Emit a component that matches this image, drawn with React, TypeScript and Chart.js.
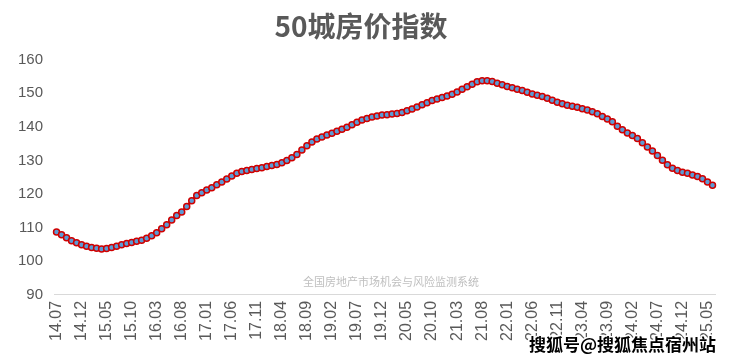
import React, { useEffect, useRef } from "react";
import { Chart, registerables } from "chart.js";

Chart.register(...registerables);

const TITLE = "50城房价指数";
const SOURCE = "全国房地产市场机会与风险监测系统";
const WATERMARK = "搜狐号@搜狐焦点宿州站";

// Months 14.07 .. 25.06
const categories: string[] = [];
for (let y = 14, m = 7; categories.length < 132; ) {
  categories.push(`${y}.${String(m).padStart(2, "0")}`);
  m++;
  if (m > 12) { m = 1; y++; }
}

const indexValues: number[] = [
  108.7, 107.9, 107.0, 106.1, 105.5, 104.9, 104.5, 104.1, 103.9, 103.7,
  103.8, 104.1, 104.5, 104.9, 105.3, 105.6, 106.0, 106.3, 106.9, 107.6,
  108.5, 109.7, 110.9, 112.3, 113.6, 114.7, 116.3, 118.0, 119.6, 120.4,
  121.2, 121.9, 122.8, 123.6, 124.5, 125.4, 126.2, 126.7, 127.0, 127.3,
  127.6, 127.8, 128.2, 128.5, 128.8, 129.3, 130.0, 130.8, 131.8, 133.1,
  134.4, 135.5, 136.4, 137.0, 137.6, 138.1, 138.7, 139.3, 139.9, 140.6,
  141.4, 142.0, 142.5, 142.9, 143.2, 143.5, 143.6, 143.8, 144.0, 144.3,
  144.8, 145.3, 145.9, 146.6, 147.2, 147.8, 148.3, 148.7, 149.2, 149.7,
  150.4, 151.2, 151.9, 152.7, 153.4, 153.7, 153.7, 153.5, 153.0, 152.5,
  152.0, 151.6, 151.2, 150.8, 150.3, 149.8, 149.4, 149.0, 148.5, 147.9,
  147.3, 146.9, 146.4, 146.1, 145.8, 145.4, 145.0, 144.5, 143.9, 143.1,
  142.3, 141.5, 140.2, 139.1, 138.2, 137.4, 136.5, 135.3, 134.0, 132.8,
  131.5, 130.1, 128.7, 127.7, 127.0, 126.5, 126.2, 125.7, 125.2, 124.6,
  123.6, 122.6,
];

const yTicks: number[] = [90, 100, 110, 120, 130, 140, 150, 160];

const textPlugin = {
  id: "extraText",
  afterDraw(chart: any) {
    const ctx = chart.ctx;
    ctx.save();
    ctx.font = '11px "Noto Sans CJK SC"';
    ctx.fillStyle = "#BFBFBF";
    ctx.textAlign = "center";
    ctx.textBaseline = "middle";
    ctx.fillText(SOURCE, 391, 282);

    ctx.font = 'bold 17px "Noto Sans CJK SC"';
    ctx.textAlign = "right";
    ctx.lineJoin = "round";
    ctx.lineWidth = 3;
    ctx.strokeStyle = "#FFFFFF";
    ctx.strokeText(WATERMARK, 716, 345);
    ctx.fillStyle = "#000000";
    ctx.fillText(WATERMARK, 716, 345);
    ctx.restore();
  },
};

export default function App() {
  const ref = useRef<HTMLCanvasElement | null>(null);
  useEffect(() => {
    document.body.style.margin = "0";
    const chart = new Chart(ref.current as HTMLCanvasElement, {
      type: "line",
      data: {
        labels: categories,
        datasets: [
          {
            data: indexValues,
            borderColor: "#D00000",
            borderWidth: 2.5,
            pointStyle: "circle",
            pointRadius: 3,
            pointBorderWidth: 1.5,
            pointBackgroundColor: "#5B9BD5",
            pointBorderColor: "#D00000",
            tension: 0.3,
          },
        ],
      },
      plugins: [textPlugin],
      options: {
        animation: false,
        responsive: false,
        layout: { padding: { left: 7, right: 15, bottom: 14 } },
        plugins: {
          legend: { display: false },
          tooltip: { enabled: false },
          title: {
            display: true,
            text: TITLE,
            color: "#595959",
            font: { size: 28, weight: "bold", family: '"Noto Sans CJK SC"' },
            padding: { top: 10, bottom: 16 },
          },
        },
        scales: {
          x: {
            offset: true,
            afterFit: (s: any) => {
              s.paddingRight = 0;
              s.paddingLeft = 0;
            },
            grid: { display: false, drawTicks: false },
            border: { display: true, color: "#D9D9D9", width: 1 },
            ticks: {
              autoSkip: false,
              maxRotation: 90,
              minRotation: 90,
              padding: 6,
              color: "#595959",
              font: { size: 16, family: '"Liberation Sans"' },
              callback: (_v: any, i: number) => (i % 5 === 0 ? categories[i] : ""),
            },
          },
          y: {
            min: 90,
            max: 160,
            afterBuildTicks: (axis: any) => {
              axis.ticks = yTicks.map((v) => ({ value: v }));
            },
            grid: { display: false, drawTicks: false },
            border: { display: false },
            ticks: {
              padding: 11,
              color: "#595959",
              font: { size: 15, family: '"Liberation Sans"' },
            },
          },
        },
      },
    });
    return () => chart.destroy();
  }, []);
  return (
    <div style={{ width: 730, height: 361 }}>
      <canvas ref={ref} width={730} height={361} style={{ display: "block" }} />
    </div>
  );
}
